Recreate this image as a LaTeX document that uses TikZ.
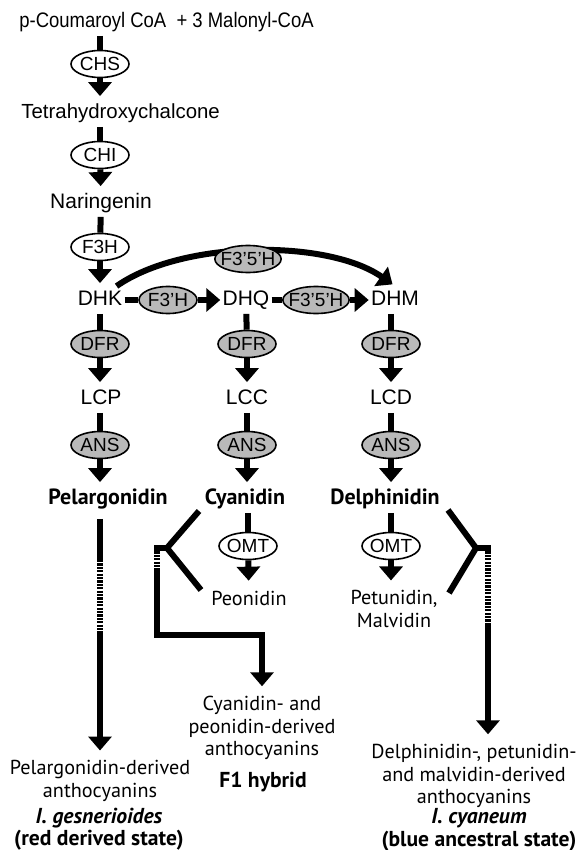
\documentclass[tikz,border=0pt]{standalone}
\usepackage{fontspec}
\setmainfont{Liberation Sans}
\newfontfamily\myriad{PT Sans}
\newfontfamily\narrowsans[FakeStretch=0.88]{Liberation Sans}
\usetikzlibrary{arrows.meta, calc, positioning, shapes.geometric}
\definecolor{enzgray}{RGB}{185,185,185}

\begin{document}
\begin{tikzpicture}[x=0.5pt, y=-0.5pt, >={Triangle[width=11.5pt,length=7pt]},
    enzyme/.style={ellipse, draw, line width=0.8pt, minimum width=29pt, minimum height=13.5pt, inner xsep=-2pt, inner ysep=0pt, font=\fontsize{9.5}{9.5}\selectfont},
    enzymeg/.style={enzyme, fill=enzgray},
    cmpd/.style={font=\fontsize{10.5}{12}\selectfont, text height=7.5pt, text depth=2pt, inner xsep=1pt, inner ysep=2pt},
    lcmpd/.style={cmpd, font=\narrowsans\fontsize{10.5}{12}\selectfont},
    bcmpd/.style={cmpd, font=\myriad\bfseries\fontsize{11}{12}\selectfont},
    product/.style={align=center, font=\myriad\fontsize{10.1}{11.2}\selectfont},
    species/.style={align=center, font=\myriad\bfseries\fontsize{10.8}{11.3}\selectfont},
    stem/.style={line width=3pt},
    rxn/.style={stem, ->, shorten >=1.5pt},
    rxnh/.style={stem, ->},
    stripe/.style={line width=3pt, dash pattern=on 1.1pt off 0.6pt}]
    \useasboundingbox (0,0) rectangle (586,850);

    % Precursors to DHK
    \node[lcmpd, anchor=west] (coa) at (17,22) {p-Coumaroyl CoA\ \ + 3 Malonyl-CoA};
    \node[enzyme] (chs) at (100,64) {CHS};
    \node[cmpd, font=\fontsize{10.2}{12}\selectfont, anchor=west] (thc) at (19,113) {Tetrahydroxychalcone};
    \node[enzyme] (chi) at (100,155) {CHI};
    \node[cmpd] (nar) at (101,203) {Naringenin};
    \node[enzyme] (f3h) at (100,247) {F3H};
    \draw[stem] (coa.south -| chs) -- (chs);
    \draw[rxn] (chs) -- (chs |- thc.north);
    \draw[stem] (thc.south -| chi) -- (chi);
    \draw[rxn] (chi) -- (nar);
    \draw[stem] (nar) -- (f3h);

    % Dihydroflavonols
    \node[cmpd] (dhk) at (100,300) {DHK};
    \node[cmpd] (dhq) at (246,300) {DHQ};
    \node[cmpd] (dhm) at (395,300) {DHM};
    \node[enzymeg] (f3ph) at (168,300) {F3'H};
    \node[enzymeg] (f35h) at (316,300) {F3'5'H};
    \draw[rxn] (f3h) -- (dhk);
    \draw[stem] (dhk) -- (f3ph);
    \draw[rxnh] (f3ph) -- (dhq);
    \draw[stem] (dhq) -- (f35h);
    \draw[rxnh] (f35h) -- (dhm);

    % Bypass DHK to DHM
    \draw[rxn, looseness=0.75] (dhk.40) to[out=35, in=145] (dhm.north);
    \node[enzymeg] (f35ht) at (248,259) {F3'5'H};

    % Three branches
    \node[enzymeg] (dfr1) at (100,344) {DFR};
    \node[enzymeg] (dfr2) at (247,344) {DFR};
    \node[enzymeg] (dfr3) at (391,344) {DFR};
    \node[cmpd] (lcp) at (101,399) {LCP};
    \node[cmpd] (lcc) at (247,399) {LCC};
    \node[cmpd] (lcd) at (391,399) {LCD};
    \node[enzymeg] (ans1) at (100,445) {ANS};
    \node[enzymeg] (ans2) at (247,445) {ANS};
    \node[enzymeg] (ans3) at (391,445) {ANS};
    \node[bcmpd] (pel) at (108,499) {Pelargonidin};
    \node[bcmpd] (cya) at (245,499) {Cyanidin};
    \node[bcmpd] (del) at (385,499) {Delphinidin};

    \draw[stem] (dhk) -- (dfr1);
    \draw[stem] (dhq) -- (dfr2);
    \draw[stem] (dhm.south -| dfr3) -- (dfr3);
    \draw[rxn] (dfr1) -- (lcp.north -| dfr1);
    \draw[rxn] (dfr2) -- (lcc);
    \draw[rxn] (dfr3) -- (lcd);
    \draw[stem] (lcp.south -| ans1) -- (ans1);
    \draw[stem] (lcc) -- (ans2);
    \draw[stem] (lcd) -- (ans3);
    \draw[rxn] (ans1) -- (pel.north -| ans1);
    \draw[rxn] (ans2) -- (ans2 |- cya.north);
    \draw[rxn] (ans3) -- (ans3 |- del.north);

    % Methylation
    \node[enzyme] (omt2) at (248,546) {OMT};
    \node[enzyme] (omt3) at (391,546) {OMT};
    \node[product] (peo) at (249,598) {Peonidin};
    \node[product] (pet) at (394,609) {Petunidin,\\Malvidin};
    \draw[stem] (cya.south -| omt2) -- (omt2);
    \draw[stem] (del.south -| omt3) -- (omt3);
    \draw[rxn] (omt2) -- (peo);
    \draw[rxn] (omt3) -- (omt3 |- pet.north);

    % Red derived state
    \node[product] (pelant) at (100,781) {Pelargonidin-derived\\anthocyanins};
    \node[species] (gesn) at (99,829) {\textit{I. gesnerioides}\\(red derived state)};
    \coordinate (pl1) at (100,560);
    \coordinate (pl2) at (100,633);
    \draw[stem, shorten <=3pt] (pel.south -| pl1) -- (pl1);
    \draw[stripe] (pl1) -- (pl2);
    \draw[rxn] (pl2) -- (pelant);

    % F1 hybrid
    \node[product] (cyant) at (262,728) {Cyanidin- and\\peonidin-derived\\anthocyanins};
    \node[species] (f1) at (263,782) {F1 hybrid};
    \coordinate (ca) at (199,511);
    \coordinate (cb) at (201,590);
    \coordinate (cj) at (167,548);
    \coordinate (cs) at (157,548);
    \coordinate (cm) at (157,570);
    \coordinate (ck) at (262,635);
    \draw[stem] (ca) -- (cj) -- (cb);
    \draw[stem, line cap=rect] (cj) -- (cs);
    \draw[stripe] (cs) -- (cm);
    \draw[rxn] (cm) |- (ck) -- (cyant);

    % Blue ancestral state
    \node[product] (delant) at (474,776) {Delphinidin-, petunidin-\\and malvidin-derived\\anthocyanins};
    \node[species] (cyan) at (479,830) {\textit{I. cyaneum}\\(blue ancestral state)};
    \coordinate (da) at (448,510);
    \coordinate (db) at (449,593);
    \coordinate (dj) at (476,548);
    \coordinate (ds) at (488,548);
    \coordinate (dm) at (488,625);
    \draw[stem] (da) -- (dj) -- (db);
    \draw[stem, line cap=rect] (dj) -- (ds);
    \draw[stripe] (ds) -- (dm);
    \draw[rxn] (dm) -- (dm |- delant.north);
\end{tikzpicture}
\end{document}
